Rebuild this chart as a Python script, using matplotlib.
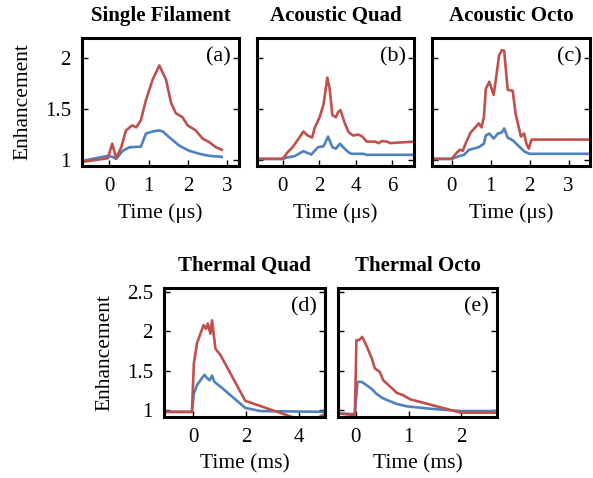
import matplotlib
matplotlib.use('Agg')
import matplotlib.pyplot as plt

plt.rcParams['font.family'] = ['Liberation Serif', 'DejaVu Serif']

RED = '#C0504D'
BLUE = '#4F81BD'

# (a) Single Filament
a_red_t = [-0.70, -0.04, 0.07, 0.17, 0.30, 0.42, 0.58, 0.68, 0.80, 0.93, 1.10, 1.27, 1.44, 1.57, 1.69, 1.86, 1.99, 2.20, 2.37, 2.54, 2.71, 2.86]
a_red_v = [0.98, 1.017, 1.16, 1.017, 1.125, 1.29, 1.34, 1.32, 1.39, 1.59, 1.79, 1.93, 1.79, 1.56, 1.46, 1.42, 1.34, 1.29, 1.21, 1.175, 1.125, 1.10]
a_blue_t = [-0.70, -0.04, 0.08, 0.17, 0.34, 0.51, 0.80, 0.93, 1.10, 1.25, 1.36, 1.53, 1.78, 2.03, 2.29, 2.54, 2.86]
a_blue_v = [0.99, 1.04, 1.03, 1.01, 1.09, 1.125, 1.13, 1.26, 1.28, 1.29, 1.28, 1.22, 1.14, 1.09, 1.06, 1.04, 1.03]

# (b) Acoustic Quad
b_red_t = [-1.38, 0.0, 0.28, 0.55, 0.92, 1.14, 1.38, 1.62, 1.75, 2.03, 2.25, 2.45, 2.58, 2.73, 2.92, 3.04, 3.17, 3.41, 3.63, 3.87, 4.15, 4.37, 4.61, 5.07, 5.26, 5.44, 5.72, 5.90, 6.27, 7.25]
b_red_v = [1.01, 1.01, 1.076, 1.125, 1.22, 1.28, 1.24, 1.22, 1.31, 1.42, 1.55, 1.81, 1.70, 1.44, 1.42, 1.47, 1.49, 1.36, 1.27, 1.24, 1.25, 1.23, 1.18, 1.18, 1.165, 1.185, 1.18, 1.165, 1.17, 1.18]
b_blue_t = [-1.38, 0.0, 0.28, 0.65, 1.14, 1.57, 1.94, 2.25, 2.49, 2.73, 2.92, 3.14, 3.32, 3.60, 3.78, 4.43, 4.61, 7.25]
b_blue_v = [1.01, 1.01, 1.026, 1.036, 1.086, 1.053, 1.125, 1.135, 1.23, 1.125, 1.11, 1.16, 1.125, 1.076, 1.06, 1.06, 1.05, 1.05]

# (c) Acoustic Octo
c_red_t = [-0.50, 0.0, 0.11, 0.21, 0.29, 0.36, 0.49, 0.61, 0.70, 0.77, 0.83, 0.88, 0.97, 1.08, 1.14, 1.22, 1.29, 1.35, 1.44, 1.57, 1.64, 1.73, 1.78, 1.86, 1.92, 1.98, 2.05, 3.55]
c_red_v = [1.01, 1.01, 1.06, 1.10, 1.09, 1.16, 1.27, 1.32, 1.36, 1.32, 1.42, 1.70, 1.77, 1.64, 1.80, 2.03, 2.08, 2.075, 1.69, 1.68, 1.46, 1.31, 1.23, 1.26, 1.16, 1.11, 1.20, 1.20]
c_blue_t = [-0.50, 0.0, 0.19, 0.32, 0.45, 0.70, 0.83, 0.88, 0.97, 1.08, 1.19, 1.29, 1.35, 1.44, 1.58, 1.71, 1.88, 2.00, 3.55]
c_blue_v = [1.01, 1.01, 1.036, 1.05, 1.10, 1.125, 1.16, 1.24, 1.26, 1.21, 1.26, 1.27, 1.31, 1.22, 1.19, 1.14, 1.08, 1.06, 1.06]

# (d) Thermal Quad
d_red_t = [-1.1, -0.04, 0.03, 0.15, 0.28, 0.40, 0.49, 0.56, 0.66, 0.72, 0.81, 0.85, 1.04, 1.98, 3.8, 4.3, 4.75, 5.1]
d_red_v = [0.98, 0.98, 1.59, 1.85, 1.97, 2.08, 2.03, 2.10, 1.97, 2.14, 1.89, 1.78, 1.70, 1.12, 0.91, 0.86, 0.91, 0.97]
d_blue_t = [-1.1, -0.04, 0.03, 0.15, 0.28, 0.43, 0.53, 0.63, 0.72, 0.81, 1.04, 1.98, 2.55, 5.1]
d_blue_v = [0.98, 0.98, 1.21, 1.32, 1.38, 1.45, 1.41, 1.38, 1.44, 1.36, 1.30, 1.03, 0.99, 0.98]

# (e) Thermal Octo
e_red_t = [-0.34, -0.02, 0.01, 0.06, 0.12, 0.20, 0.30, 0.36, 0.45, 0.52, 0.65, 0.78, 0.90, 1.03, 1.99, 2.69]
e_red_v = [0.96, 0.94, 1.89, 1.89, 1.93, 1.82, 1.66, 1.53, 1.49, 1.38, 1.30, 1.22, 1.19, 1.14, 0.97, 0.97]
e_blue_t = [-0.34, -0.02, 0.03, 0.11, 0.20, 0.30, 0.39, 0.49, 0.59, 0.78, 0.97, 1.41, 1.99, 2.69]
e_blue_v = [0.96, 0.95, 1.36, 1.36, 1.32, 1.27, 1.21, 1.16, 1.13, 1.08, 1.05, 1.02, 0.99, 0.99]

W, H = 593, 478
fig = plt.figure(figsize=(W / 100, H / 100), dpi=100)


def make_ax(l, r, t, b):
    return fig.add_axes([l / W, (H - b) / H, (r - l) / W, (b - t) / H])


panels = [
    # box, title, label, red, blue, xlim, ylim, xticks, yticks, show y labels, x label
    ((82, 239, 38, 166), 'Single Filament', '(a)', (a_red_t, a_red_v), (a_blue_t, a_blue_v),
     (-0.7, 3.3), (0.94, 2.2), [0, 1, 2, 3], [1, 1.5, 2], True, 'Time (\u03bcs)'),
    ((257, 414, 38, 166), 'Acoustic Quad', '(b)', (b_red_t, b_red_v), (b_blue_t, b_blue_v),
     (-1.4, 7.2), (0.94, 2.2), [0, 2, 4, 6], [1, 1.5, 2], False, 'Time (\u03bcs)'),
    ((432, 590, 38, 166), 'Acoustic Octo', '(c)', (c_red_t, c_red_v), (c_blue_t, c_blue_v),
     (-0.5, 3.55), (0.94, 2.2), [0, 1, 2, 3], [1, 1.5, 2], False, 'Time (\u03bcs)'),
    ((164, 325, 288, 417), 'Thermal Quad', '(d)', (d_red_t, d_red_v), (d_blue_t, d_blue_v),
     (-1.1, 5.0), (0.915, 2.55), [0, 2, 4], [1, 1.5, 2, 2.5], True, 'Time (ms)'),
    ((338, 497, 288, 417), 'Thermal Octo', '(e)', (e_red_t, e_red_v), (e_blue_t, e_blue_v),
     (-0.34, 2.68), (0.915, 2.55), [0, 1, 2], [1, 1.5, 2, 2.5], False, 'Time (ms)'),
]

for box, title, lab, red, blue, xl, yl, xt, yt, show_y, xlabel in panels:
    ax = make_ax(*box)
    ax.plot(blue[0], blue[1], color=BLUE, lw=1.9)
    ax.plot(red[0], red[1], color=RED, lw=1.9)
    ax.set_xlim(xl)
    ax.set_ylim(yl)
    ax.set_xticks(xt)
    ax.set_yticks(yt)
    ax.set_yticklabels([('%g' % v) for v in yt] if show_y else [])
    if show_y:
        ax.set_ylabel('Enhancement', fontsize=15.5, labelpad=9)
    ax.set_xlabel(xlabel, fontsize=15.5, labelpad=5)
    ax.set_title(title, fontsize=15, fontweight='bold', pad=12)
    ax.text(0.95, 0.93, lab, transform=ax.transAxes, ha='right', va='top', fontsize=16)
    ax.tick_params(direction='in', right=True, labelsize=15, length=4, width=1, pad=8)
    for s in ax.spines.values():
        s.set_linewidth(2.2)

fig.savefig('out.png', dpi=100)
